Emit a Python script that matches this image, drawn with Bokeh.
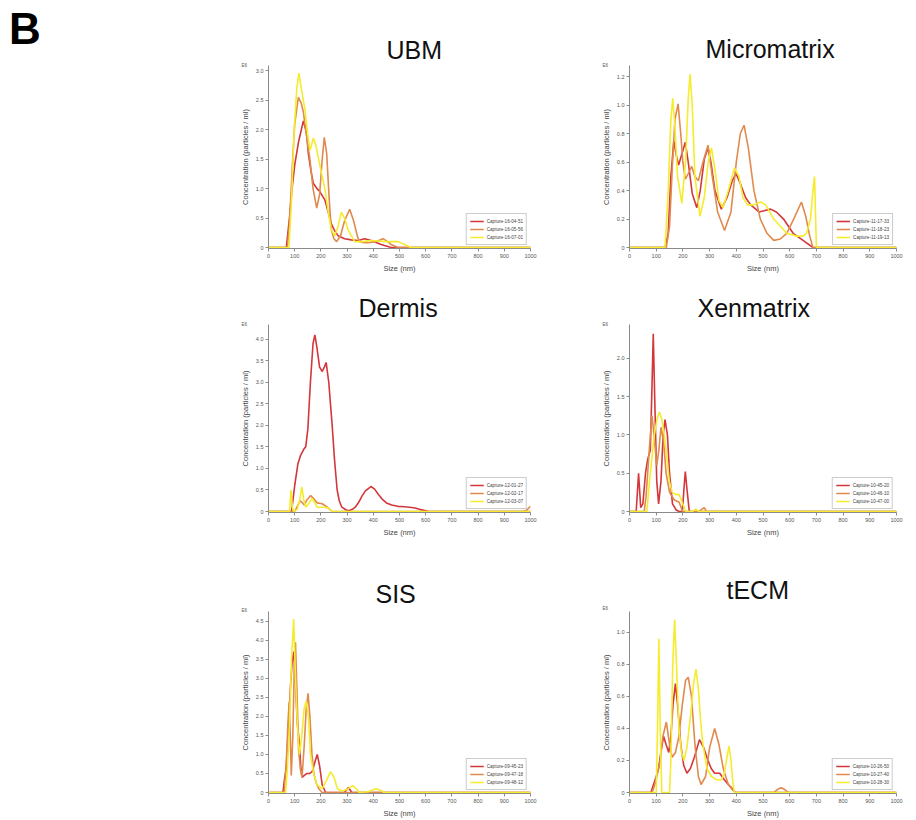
from bokeh.plotting import figure
from bokeh.layouts import column, row, Spacer
from bokeh.models import Range1d, FixedTicker, Legend, LegendItem, Title, CustomJSTickFormatter, Div
from bokeh.embed import file_html
from bokeh.resources import INLINE

FONT = "Liberation Sans"
COLORS = ["#d3373a", "#e08a4e", "#f5ec2e"]

x_ticks = [0, 100, 200, 300, 400, 500, 600, 700, 800, 900, 1000]

# ---------------- UBM ----------------
ubm_labels = ["Capture-16-04-51", "Capture-16-05-56", "Capture-16-07-01"]
ubm_r_x = [0, 68, 80, 90, 101, 115, 133, 145, 152, 162, 171, 185, 196, 215, 228, 240, 253, 266, 290, 316, 342, 367, 392, 430, 468, 1000]
ubm_r_y = [0, 0, 0.5, 1.0, 1.43, 1.8, 2.15, 1.95, 1.6, 1.3, 1.09, 1.0, 0.95, 0.81, 0.6, 0.4, 0.28, 0.2, 0.15, 0.13, 0.12, 0.15, 0.12, 0.05, 0, 0]
ubm_o_x = [0, 72, 80, 90, 100, 114, 125, 133, 145, 158, 170, 184, 195, 205, 213, 222, 232, 240, 250, 260, 275, 290, 310, 325, 340, 348, 365, 380, 410, 437, 455, 468, 494, 1000]
ubm_o_y = [0, 0, 0.4, 1.3, 2.1, 2.55, 2.45, 2.3, 1.9, 1.5, 1.0, 0.67, 0.9, 1.5, 1.87, 1.6, 0.8, 0.3, 0.15, 0.1, 0.2, 0.45, 0.65, 0.45, 0.18, 0.1, 0.08, 0.08, 0.1, 0.15, 0.1, 0.05, 0, 0]
ubm_y_x = [0, 78, 88, 98, 108, 116, 125, 139, 150, 158, 165, 171, 180, 196, 215, 230, 240, 253, 265, 278, 290, 304, 329, 360, 392, 450, 494, 519, 544, 1000]
ubm_y_y = [0, 0, 0.8, 2.0, 2.7, 2.96, 2.7, 2.35, 1.9, 1.65, 1.75, 1.86, 1.75, 1.4, 1.0, 0.55, 0.3, 0.2, 0.35, 0.6, 0.5, 0.3, 0.1, 0.1, 0.12, 0.1, 0.1, 0.05, 0, 0]
ubm_yticks = [0, 0.5, 1.0, 1.5, 2.0, 2.5, 3.0]

# ---------------- Micromatrix ----------------
mic_labels = ["Capture-11-17-33", "Capture-11-18-23", "Capture-11-19-13"]
mic_r_x = [0, 133, 145, 155, 166, 175, 184, 195, 209, 220, 235, 252, 265, 280, 294, 305, 320, 344, 365, 385, 399, 415, 435, 454, 485, 528, 550, 577, 613, 650, 687, 1000]
mic_r_y = [0, 0, 0.1, 0.5, 0.75, 0.65, 0.58, 0.65, 0.74, 0.6, 0.38, 0.28, 0.4, 0.62, 0.7, 0.6, 0.4, 0.27, 0.35, 0.47, 0.52, 0.45, 0.35, 0.3, 0.25, 0.27, 0.25, 0.2, 0.1, 0.05, 0, 0]
mic_o_x = [0, 138, 150, 160, 170, 182, 192, 200, 209, 220, 233, 245, 258, 275, 294, 310, 330, 356, 380, 400, 415, 429, 445, 466, 490, 515, 540, 565, 589, 615, 644, 660, 675, 687, 1000]
mic_o_y = [0, 0, 0.15, 0.55, 0.9, 1.01, 0.8, 0.6, 0.48, 0.52, 0.57, 0.5, 0.47, 0.6, 0.72, 0.5, 0.25, 0.12, 0.25, 0.6, 0.8, 0.86, 0.7, 0.4, 0.2, 0.1, 0.05, 0.06, 0.1, 0.2, 0.32, 0.22, 0.08, 0, 0]
mic_y_x = [0, 133, 145, 155, 162, 170, 180, 196, 210, 220, 227, 235, 245, 264, 280, 295, 307, 320, 335, 350, 370, 393, 410, 425, 442, 465, 491, 510, 540, 565, 589, 626, 650, 663, 678, 687, 693, 700, 1000]
mic_y_y = [0, 0, 0.4, 0.9, 1.05, 0.85, 0.5, 0.31, 0.6, 1.05, 1.22, 1.0, 0.5, 0.22, 0.35, 0.6, 0.7, 0.55, 0.33, 0.28, 0.4, 0.56, 0.5, 0.35, 0.3, 0.3, 0.32, 0.3, 0.2, 0.15, 0.1, 0.08, 0.08, 0.1, 0.2, 0.4, 0.5, 0, 0]
mic_yticks = [0, 0.2, 0.4, 0.6, 0.8, 1.0, 1.2]

# ---------------- Dermis ----------------
der_labels = ["Capture-12-01-27", "Capture-12-02-17", "Capture-12-03-07"]
der_r_x = [0, 88, 100, 112, 123, 135, 142, 150, 160, 170, 177, 185, 195, 205, 213, 220, 230, 243, 252, 262, 270, 280, 295, 306, 320, 331, 345, 356, 370, 391, 405, 419, 435, 450, 470, 494, 520, 538, 560, 576, 614, 1000]
der_r_y = [0, 0, 0.6, 1.1, 1.31, 1.45, 1.5, 1.9, 3.0, 3.9, 4.1, 3.8, 3.35, 3.25, 3.35, 3.46, 3.0, 2.0, 1.2, 0.5, 0.25, 0.1, 0.04, 0.02, 0.05, 0.1, 0.22, 0.35, 0.48, 0.58, 0.52, 0.4, 0.28, 0.2, 0.15, 0.12, 0.11, 0.1, 0.08, 0.05, 0, 0]
der_o_x = [0, 100, 110, 121, 130, 136, 148, 161, 172, 186, 205, 215, 224, 243, 975, 985, 993, 1000]
der_o_y = [0, 0, 0.12, 0.25, 0.2, 0.15, 0.28, 0.37, 0.3, 0.2, 0.18, 0.14, 0.1, 0, 0, 0.03, 0.08, 0.12]
der_y_x = [0, 80, 86, 91, 96, 110, 120, 127, 134, 142, 155, 167, 177, 186, 210, 230, 243, 1000]
der_y_y = [0, 0, 0.5, 0.1, 0, 0.05, 0.3, 0.57, 0.3, 0.1, 0.2, 0.3, 0.2, 0.1, 0.1, 0.08, 0, 0]
der_yticks = [0, 0.5, 1.0, 1.5, 2.0, 2.5, 3.0, 3.5, 4.0]

# ---------------- Xenmatrix ----------------
xen_labels = ["Capture-10-45-20", "Capture-10-46-10", "Capture-10-47-00"]
xen_r_x = [0, 25, 34, 42, 50, 60, 68, 78, 84, 89, 95, 102, 109, 118, 126, 133, 142, 150, 161, 175, 186, 198, 204, 209, 215, 224, 1000]
xen_r_y = [0, 0, 0.5, 0.05, 0.1, 0.5, 0.68, 0.8, 1.6, 2.32, 1.4, 0.4, 0.1, 0.4, 1.0, 1.2, 1.0, 0.5, 0.1, 0.02, 0, 0, 0.3, 0.52, 0.3, 0, 0]
xen_o_x = [0, 55, 62, 68, 76, 84, 92, 102, 110, 118, 128, 137, 150, 168, 180, 186, 199, 260, 272, 280, 288, 1000]
xen_o_y = [0, 0, 0.2, 0.5, 0.9, 1.25, 1.0, 0.6, 0.8, 1.1, 0.9, 0.5, 0.25, 0.15, 0.13, 0.12, 0, 0, 0.03, 0.05, 0, 0]
xen_y_x = [0, 65, 75, 84, 93, 103, 112, 121, 130, 140, 149, 160, 174, 186, 199, 211, 235, 248, 260, 1000]
xen_y_y = [0, 0, 0.4, 0.7, 1.0, 1.2, 1.3, 1.2, 1.0, 0.7, 0.4, 0.25, 0.22, 0.22, 0.1, 0, 0, 0.03, 0, 0]
xen_yticks = [0, 0.5, 1.0, 1.5, 2.0]

# ---------------- SIS ----------------
sis_labels = ["Capture-09-45-23", "Capture-09-47-18", "Capture-09-48-12"]
sis_r_x = [0, 55, 62, 67, 75, 84, 90, 96, 102, 110, 118, 123, 128, 137, 147, 157, 167, 177, 186, 195, 205, 218, 290, 305, 318, 1000]
sis_r_y = [0, 0, 0.4, 0.6, 1.5, 2.8, 3.4, 3.7, 3.0, 1.8, 1.3, 0.7, 0.4, 0.45, 0.5, 0.5, 0.55, 0.8, 1.0, 0.7, 0.2, 0, 0, 0.13, 0, 0]
sis_o_x = [0, 60, 68, 74, 79, 83, 87, 93, 98, 103, 108, 115, 122, 128, 136, 144, 151, 158, 166, 173, 182, 192, 205, 1000]
sis_o_y = [0, 0, 0.8, 1.8, 2.39, 1.5, 0.45, 1.5, 3.2, 3.94, 2.8, 1.1, 0.6, 0.4, 1.2, 2.2, 2.6, 2.0, 1.0, 0.5, 0.25, 0.1, 0, 0]
sis_y_x = [0, 65, 72, 80, 88, 96, 103, 110, 118, 126, 136, 144, 152, 160, 172, 186, 205, 220, 237, 250, 263, 280, 300, 321, 335, 346, 380, 410, 430, 442, 1000]
sis_y_y = [0, 0, 0.6, 1.8, 3.5, 4.55, 3.0, 1.8, 1.0, 1.4, 2.2, 2.4, 2.0, 1.0, 0.5, 0.2, 0.1, 0.3, 0.55, 0.4, 0.1, 0.04, 0.08, 0.18, 0.1, 0, 0.02, 0.1, 0.05, 0, 0]
sis_yticks = [0, 0.5, 1.0, 1.5, 2.0, 2.5, 3.0, 3.5, 4.0, 4.5]

# ---------------- tECM ----------------
tec_labels = ["Capture-10-26-50", "Capture-10-27-40", "Capture-10-28-30"]
tec_r_x = [0, 80, 90, 100, 109, 120, 128, 137, 147, 155, 163, 172, 180, 192, 203, 215, 228, 243, 262, 278, 294, 306, 319, 338, 355, 370, 385, 396, 1000]
tec_r_y = [0, 0, 0.05, 0.1, 0.15, 0.28, 0.35, 0.3, 0.25, 0.35, 0.55, 0.68, 0.55, 0.3, 0.17, 0.12, 0.15, 0.22, 0.33, 0.28, 0.2, 0.15, 0.12, 0.12, 0.08, 0.05, 0.02, 0, 0]
tec_o_x = [0, 85, 95, 105, 115, 125, 138, 150, 160, 172, 185, 198, 210, 220, 232, 245, 258, 268, 285, 300, 319, 335, 351, 370, 383, 396, 540, 555, 568, 580, 595, 1000]
tec_o_y = [0, 0, 0.05, 0.12, 0.2, 0.35, 0.44, 0.3, 0.22, 0.25, 0.35, 0.55, 0.7, 0.72, 0.6, 0.3, 0.1, 0.05, 0.1, 0.28, 0.4, 0.3, 0.15, 0.05, 0.03, 0, 0, 0.02, 0.03, 0.02, 0, 0]
tec_y_x = [0, 100, 105, 110, 115, 121, 150, 155, 162, 169, 176, 185, 195, 204, 215, 230, 240, 249, 258, 266, 275, 290, 307, 325, 345, 355, 365, 373, 380, 386, 393, 1000]
tec_y_y = [0, 0, 0.4, 0.96, 0.4, 0, 0, 0.2, 0.8, 1.08, 0.8, 0.4, 0.25, 0.2, 0.28, 0.5, 0.68, 0.77, 0.65, 0.45, 0.3, 0.15, 0.1, 0.08, 0.08, 0.12, 0.22, 0.29, 0.2, 0.08, 0, 0]
tec_yticks = [0, 0.2, 0.4, 0.6, 0.8, 1.0]


def panel(title, series, labels, ytop, yticks, W, H, ml, mr, mt, mb, title_off, e6_standoff):
    fh = H - mt - mb
    pad = ytop / fh * 1.0
    p = figure(width=W, height=H, x_range=Range1d(0, 1000), y_range=Range1d(-pad, ytop),
               output_backend="svg", toolbar_location=None, title=title,
               min_border_left=ml, min_border_right=mr, min_border_top=mt, min_border_bottom=mb)
    p.outline_line_color = None
    p.grid.visible = False
    p.title.text_font = FONT
    p.title.text_font_size = "25px"
    p.title.text_font_style = "normal"
    p.title.text_color = "#111111"
    p.title.align = "left"
    p.title.offset = title_off
    p.title.standoff = 0

    # "E6" multiplier mark at the top-left of the y axis
    p.add_layout(Title(text="E6", align="left", offset=-27, standoff=e6_standoff,
                       text_font=FONT, text_font_size="4.5px", text_font_style="normal",
                       text_color="#555555"), "above")

    items = []
    for (xs, ys), lab, col in zip(series, labels, COLORS):
        r = p.line(xs, ys, line_color=col, line_width=1.6)
        items.append(LegendItem(label=lab, renderers=[r]))

    for ax in (p.xaxis[0], p.yaxis[0]):
        ax.axis_line_color = "#8a8a8a"
        ax.major_tick_line_color = "#8a8a8a"
        ax.major_tick_out = 3
        ax.major_tick_in = 0
        ax.minor_tick_line_color = None
        ax.major_label_text_font = FONT
        ax.major_label_text_font_size = "5.5px"
        ax.major_label_text_color = "#555555"
        ax.major_label_standoff = 2
        ax.axis_label_text_font = FONT
        ax.axis_label_text_font_style = "normal"
        ax.axis_label_text_color = "#444444"
        ax.axis_label_text_font_size = "7.5px"
        ax.axis_label_standoff = 3
    p.xaxis.ticker = FixedTicker(ticks=x_ticks)
    p.yaxis.ticker = FixedTicker(ticks=yticks)
    p.yaxis.formatter = CustomJSTickFormatter(code="return tick === 0 ? '0' : tick.toFixed(1);")
    p.xaxis.axis_label = "Size (nm)"
    p.yaxis.axis_label = "Concentration (particles / ml)"

    leg = Legend(items=items, location="bottom_right")
    leg.label_text_font = FONT
    leg.label_text_font_size = "4.6px"
    leg.label_text_color = "#444444"
    leg.glyph_width = 14
    leg.glyph_height = 8
    leg.label_height = 8
    leg.label_standoff = 3
    leg.spacing = 0
    leg.padding = 3
    leg.margin = 3
    leg.border_line_color = "#9a9a9a"
    leg.background_fill_alpha = 1
    p.add_layout(leg)
    return p


p_ubm = panel("UBM", [(ubm_r_x, ubm_r_y), (ubm_o_x, ubm_o_y), (ubm_y_x, ubm_y_y)], ubm_labels,
              3.09, ubm_yticks, 360, 290, 68, 30, 65, 42, 118, -5)
p_mic = panel("Micromatrix", [(mic_r_x, mic_r_y), (mic_o_x, mic_o_y), (mic_y_x, mic_y_y)], mic_labels,
              1.28, mic_yticks, 356, 290, 69, 20, 65, 42, 76, -4)
p_der = panel("Dermis", [(der_r_x, der_r_y), (der_o_x, der_o_y), (der_y_x, der_y_y)], der_labels,
              4.34, der_yticks, 360, 282, 68, 30, 34, 60, 90, -4)
p_xen = panel("Xenmatrix", [(xen_r_x, xen_r_y), (xen_o_x, xen_o_y), (xen_y_x, xen_y_y)], xen_labels,
              2.44, xen_yticks, 356, 282, 69, 20, 34, 60, 68, -4)
p_sis = panel("SIS", [(sis_r_x, sis_r_y), (sis_o_x, sis_o_y), (sis_y_x, sis_y_y)], sis_labels,
              4.75, sis_yticks, 360, 248, 68, 30, 39, 26, 107, -3)
p_tec = panel("tECM", [(tec_r_x, tec_r_y), (tec_o_x, tec_o_y), (tec_y_x, tec_y_y)], tec_labels,
              1.13, tec_yticks, 356, 248, 69, 20, 39, 26, 97, 1)

# panel letter
b_div = Div(text="<div style=\"padding:7px 0 0 9px; font-family:'Liberation Sans'; font-size:44px; "
                 "font-weight:bold; line-height:1; color:#000000;\">B</div>",
            width=200, height=290, margin=0)

layout = column(
    row(b_div, p_ubm, p_mic, spacing=0),
    row(Spacer(width=200, height=282, margin=0), p_der, p_xen, spacing=0),
    row(Spacer(width=200, height=248, margin=0), p_sis, p_tec, spacing=0),
    spacing=0,
)

open("out.html", "w").write(file_html(layout, INLINE))
